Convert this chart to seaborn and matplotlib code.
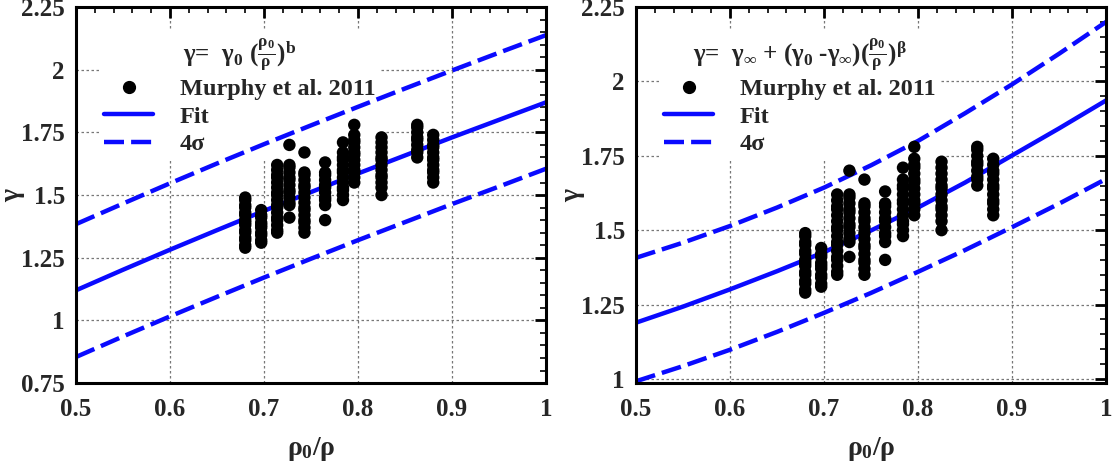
import numpy as np
import pandas as pd
import matplotlib
matplotlib.use("Agg")
import matplotlib.pyplot as plt
from matplotlib.lines import Line2D
from matplotlib.ticker import MultipleLocator, FormatStrFormatter
import seaborn as sns

# ---------------- data ----------------
cluster_x = [0.680, 0.697, 0.714, 0.727, 0.743, 0.765, 0.784, 0.796, 0.825, 0.863, 0.880]
cluster_y = [
    [1.29, 1.30, 1.32, 1.33, 1.35, 1.36, 1.38, 1.39, 1.40, 1.42, 1.43, 1.45, 1.46, 1.48, 1.49],
    [1.31, 1.32, 1.34, 1.35, 1.37, 1.38, 1.39, 1.41, 1.42, 1.44],
    [1.35, 1.36, 1.38, 1.40, 1.41, 1.43, 1.45, 1.46, 1.48, 1.50, 1.51, 1.53, 1.55, 1.57, 1.58, 1.60, 1.62],
    [1.41, 1.46, 1.47, 1.49, 1.51, 1.52, 1.54, 1.56, 1.57, 1.59, 1.61, 1.62, 1.70],
    [1.35, 1.37, 1.39, 1.40, 1.42, 1.44, 1.45, 1.47, 1.49, 1.51, 1.53, 1.54, 1.56, 1.58, 1.59, 1.67],
    [1.40, 1.46, 1.48, 1.49, 1.51, 1.53, 1.54, 1.56, 1.58, 1.59, 1.63],
    [1.48, 1.50, 1.52, 1.53, 1.55, 1.57, 1.59, 1.60, 1.62, 1.64, 1.65, 1.67, 1.71],
    [1.55, 1.57, 1.59, 1.60, 1.62, 1.64, 1.66, 1.67, 1.69, 1.71, 1.72, 1.74, 1.78],
    [1.50, 1.53, 1.55, 1.57, 1.58, 1.60, 1.62, 1.64, 1.65, 1.67, 1.69, 1.71, 1.73],
    [1.65, 1.67, 1.68, 1.70, 1.72, 1.73, 1.75, 1.77, 1.78],
    [1.55, 1.57, 1.59, 1.60, 1.62, 1.64, 1.65, 1.67, 1.69, 1.70, 1.72, 1.74],
]

curve_x = [0.50, 0.55, 0.60, 0.65, 0.70, 0.75, 0.80, 0.85, 0.90, 0.95, 1.00]
# left panel: power-law fit
left_fit   = [1.120, 1.202, 1.282, 1.360, 1.437, 1.512, 1.586, 1.658, 1.730, 1.800, 1.870]
left_upper = [1.384, 1.466, 1.547, 1.626, 1.703, 1.778, 1.852, 1.925, 1.997, 2.068, 2.138]
left_lower = [0.854, 0.936, 1.016, 1.094, 1.171, 1.246, 1.320, 1.392, 1.464, 1.534, 1.605]
# right panel: asymptotic fit
right_fit   = [1.189, 1.243, 1.301, 1.362, 1.426, 1.499, 1.576, 1.660, 1.751, 1.842, 1.936]
right_upper = [1.407, 1.458, 1.514, 1.576, 1.643, 1.718, 1.800, 1.893, 1.990, 2.093, 2.200]
right_lower = [0.992, 1.043, 1.098, 1.158, 1.222, 1.289, 1.360, 1.433, 1.510, 1.589, 1.672]

x_ticks = [0.5, 0.6, 0.7, 0.8, 0.9, 1.0]
left_yticks = [0.75, 1.0, 1.25, 1.5, 1.75, 2.0, 2.25]
right_yticks = [1.0, 1.25, 1.5, 1.75, 2.0, 2.25]

legend_labels = ["Murphy et al. 2011", "Fit", "4σ"]
left_title = r"$\gamma$=  $\gamma_0\ (\frac{\rho_0}{\rho})^b$"
right_title = r"$\gamma$=  $\gamma_\infty$ + ($\gamma_0$ -$\gamma_\infty$)$(\frac{\rho_0}{\rho})^\beta$"
xlabel = r"$\rho_0/\rho$"
ylabel = r"$\gamma$"

# ---------------- style ----------------
sns.set_style("white")
plt.rcParams["font.family"] = ["Liberation Serif", "DejaVu Serif"]
plt.rcParams["font.weight"] = "bold"
plt.rcParams["mathtext.fontset"] = "custom"
plt.rcParams["mathtext.rm"] = "Liberation Serif:bold"
plt.rcParams["mathtext.it"] = "Liberation Serif:bold"
plt.rcParams["mathtext.bf"] = "Liberation Serif:bold"
plt.rcParams["mathtext.sf"] = "Liberation Serif:bold"
plt.rcParams["mathtext.fallback"] = "stix"
plt.rcParams["axes.axisbelow"] = True

BLUE = "#0a0aff"

df = pd.DataFrame({
    "rho": [x for x, ys in zip(cluster_x, cluster_y) for _ in ys],
    "gamma": [y for ys in cluster_y for y in ys],
})

fig = plt.figure(figsize=(11.18, 4.70), dpi=100)
ax1 = fig.add_axes([0.068, 0.185, 0.4204, 0.800])
ax2 = fig.add_axes([0.5689, 0.185, 0.4204, 0.800])

panels = [
    (ax1, left_fit, left_upper, left_lower, left_yticks, (0.75, 2.25), left_title),
    (ax2, right_fit, right_upper, right_lower, right_yticks, (0.986, 2.25), right_title),
]

for ax, fit, up, lo, yt, ylim, title in panels:
    sns.lineplot(x=curve_x, y=fit, ax=ax, color=BLUE, lw=3.2, zorder=2)
    for vals in (up, lo):
        sns.lineplot(x=curve_x, y=vals, ax=ax, color=BLUE, lw=3.2, zorder=2)
        ax.lines[-1].set_dashes((4.5, 1.6))
    sns.scatterplot(data=df, x="rho", y="gamma", ax=ax, color="black", s=80,
                    edgecolor="none", linewidth=0, legend=False, zorder=3)

    ax.set_xlim(0.5, 1.0)
    ax.set_ylim(*ylim)
    ax.set_xticks(x_ticks)
    ax.set_yticks(yt)
    ax.xaxis.set_minor_locator(MultipleLocator(0.02))
    ax.yaxis.set_minor_locator(MultipleLocator(0.05))
    ax.xaxis.set_major_formatter(FormatStrFormatter("%g"))
    ax.yaxis.set_major_formatter(FormatStrFormatter("%g"))
    ax.tick_params(which="major", direction="in", length=8, width=2,
                   top=True, right=True, labelsize=18, pad=8, color="black")
    ax.tick_params(which="minor", direction="in", length=4.5, width=1.2,
                   top=True, right=True, color="black")
    ax.tick_params(axis="x", which="major", pad=11)
    for lab in ax.get_xticklabels() + ax.get_yticklabels():
        lab.set_fontweight("bold")
    for sp in ax.spines.values():
        sp.set_linewidth(2.2)
        sp.set_color("black")
    ax.grid(True, which="major", color="#777777", linestyle=(0, (2, 2)), linewidth=0.9)

    ax.set_xlabel(xlabel, fontsize=20, labelpad=10)
    ax.set_ylabel(ylabel, fontsize=20)
    ax.yaxis.set_label_coords(-0.104, 0.5)

    handles = [
        Line2D([], [], marker="o", ls="none", color="black", markersize=8.5),
        Line2D([], [], color=BLUE, lw=3.2),
        Line2D([], [], color=BLUE, lw=3.2, dashes=(4.5, 1.6)),
    ]
    leg = ax.legend(handles, legend_labels, title=title, loc="upper left",
                    bbox_to_anchor=(0.05, 0.935), fontsize=17.5, title_fontsize=18,
                    frameon=True, facecolor="white", edgecolor="none", framealpha=1,
                    handlelength=2.0, handletextpad=1.1, labelspacing=0.22,
                    borderpad=0.2, borderaxespad=0, fancybox=False)
    leg.set_zorder(1)
    for t in leg.get_texts():
        t.set_fontweight("bold")

fig.savefig("out.png", dpi=100)
